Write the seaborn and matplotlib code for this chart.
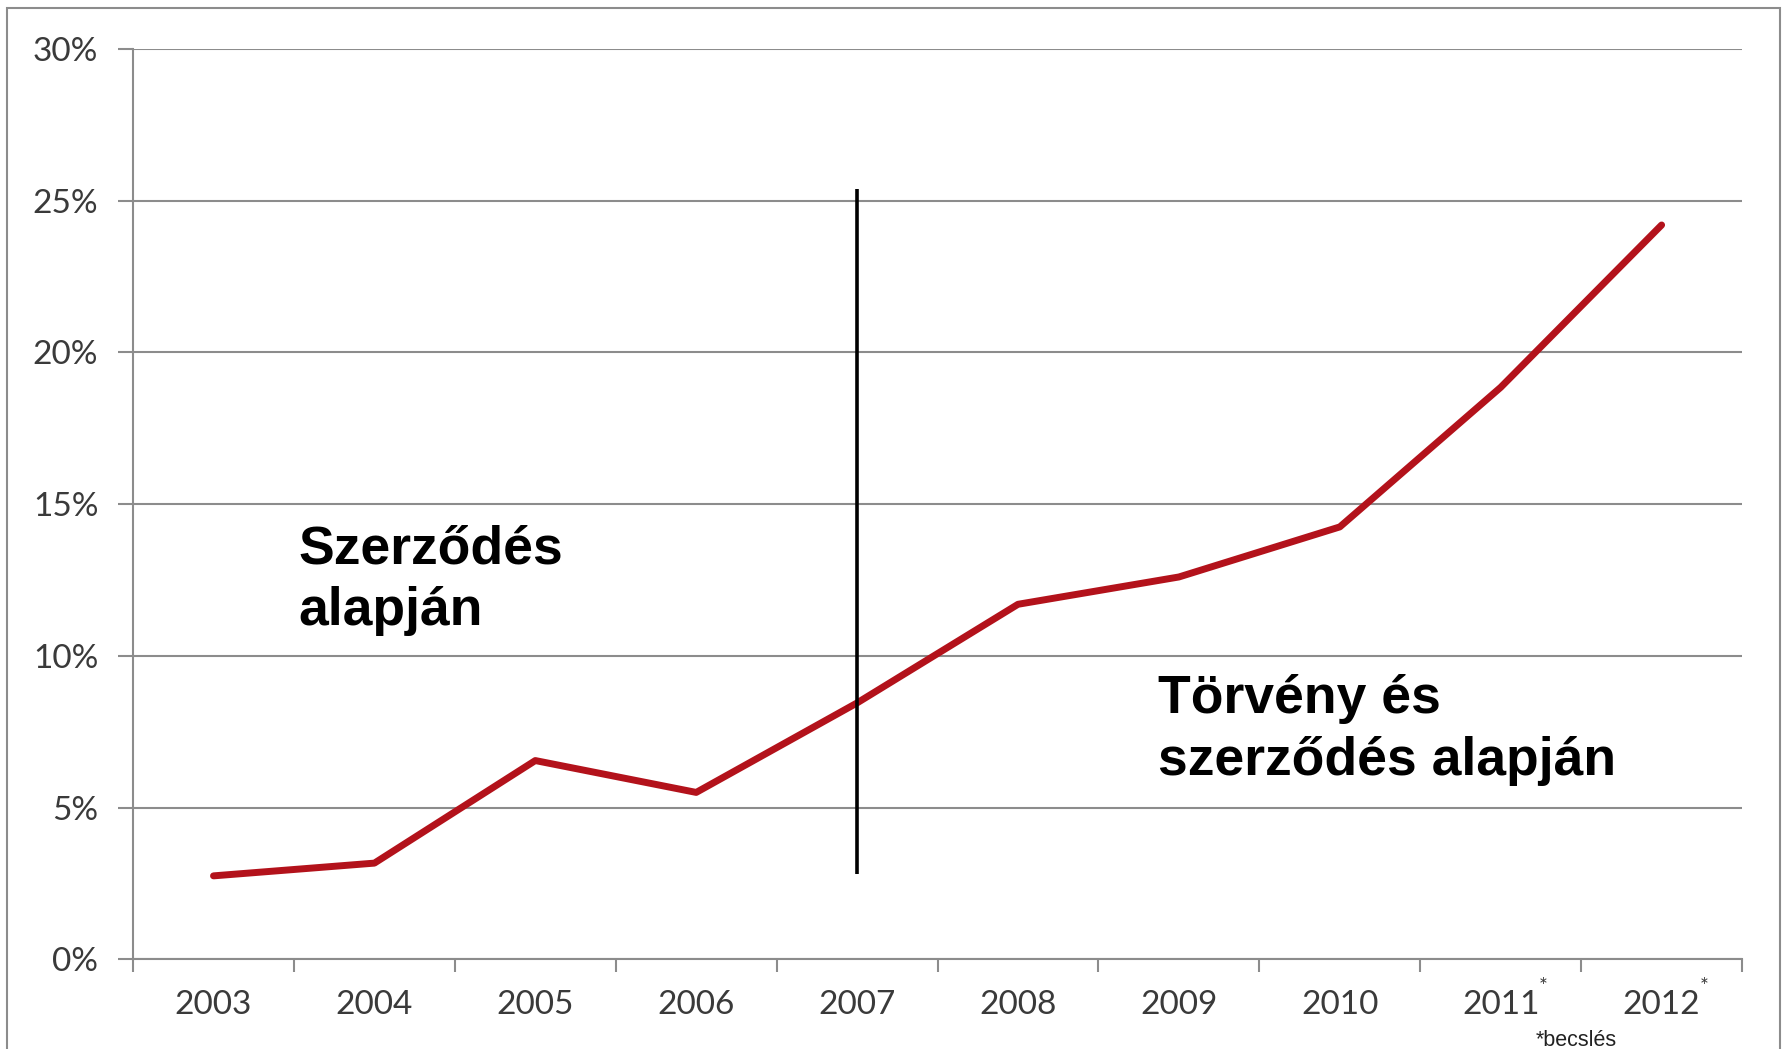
import numpy as np
import pandas as pd
import seaborn as sns
import matplotlib.pyplot as plt
from matplotlib.patches import Rectangle

# values (percent)
years = ["2003", "2004", "2005", "2006", "2007", "2008", "2009", "2010", "2011", "2012"]
share = [2.75, 3.17, 6.55, 5.50, 8.45, 11.7, 12.6, 14.25, 18.85, 24.2]
estimated = ["2011", "2012"]
yticks = [0, 5, 10, 15, 20, 25, 30]
split_year = "2007"
split_range = [2.8, 25.4]
left_label = ["Szerződés", "alapján"]
right_label = ["Törvény és", "szerződés alapján"]
note = "*becslés"

sns.set_theme(style="white")
plt.rcParams["font.family"] = ["Lato", "DejaVu Sans"]

grey = "#8c8c8c"
pos = np.arange(len(years))
df = pd.DataFrame({"pos": pos, "share": share})

fig = plt.figure(figsize=(17.86, 10.49), dpi=100)
ax = fig.add_axes([0.0745, 0.0855, 0.9009, 0.8678])

sns.lineplot(data=df, x="pos", y="share", color="#B3121B", linewidth=5, ax=ax)

# dividing line at the 2007 law change
ax.vlines(years.index(split_year), split_range[0], split_range[1], color="black", lw=2.6)

ax.set_xlim(-0.5, len(years) - 0.5)
ax.set_ylim(0, 30)
ax.set_xlabel("")
ax.set_ylabel("")

ax.set_yticks(yticks)
ax.set_yticklabels([f"{v}%" for v in yticks])
ax.yaxis.grid(True, color=grey, lw=1.5)
ax.set_axisbelow(True)

ax.set_xticks(np.arange(len(years) + 1) - 0.5)
ax.set_xticklabels([])
ax.set_xticks(pos, minor=True)
ax.set_xticklabels(years, minor=True)

for s in ["top", "right"]:
    ax.spines[s].set_visible(False)
for s in ["left", "bottom"]:
    ax.spines[s].set_color(grey)
    ax.spines[s].set_linewidth(1.5)

ax.tick_params(axis="y", left=True, length=11, width=1.5, color=grey, pad=14,
               labelsize=24, labelcolor="#3a3a3a")
ax.tick_params(axis="x", which="major", bottom=True, length=9, width=1.5, color=grey)
ax.tick_params(axis="x", which="minor", bottom=True, length=0, pad=22,
               labelsize=24, labelcolor="#3a3a3a")

bold = dict(fontfamily="Liberation Sans", fontweight="bold", fontsize=38.5, color="black",
            va="baseline", ha="left")
for txt, y in zip(left_label, [13.06, 11.02]):
    ax.text(0.525, y, txt, **bold)
for txt, y in zip(right_label, [8.12, 6.08]):
    ax.text(5.867, y, txt, **bold)

tr = ax.get_xaxis_transform()
for yr in estimated:
    ax.text(years.index(yr) + 0.265, -0.03, "*", transform=tr, fontsize=15,
            ha="center", va="center", color="#3a3a3a")
ax.text(8.47, -0.0887, note, transform=tr, fontfamily="Liberation Sans", fontsize=15.5,
        ha="center", va="center", color="#222222")

# outer frame
fig.add_artist(Rectangle((7 / 1786, -0.05), 1773 / 1786, 1.0424, transform=fig.transFigure,
                         fill=False, edgecolor=grey, lw=1.5, clip_on=False))

fig.savefig("out.png", dpi=100)
plt.close(fig)
